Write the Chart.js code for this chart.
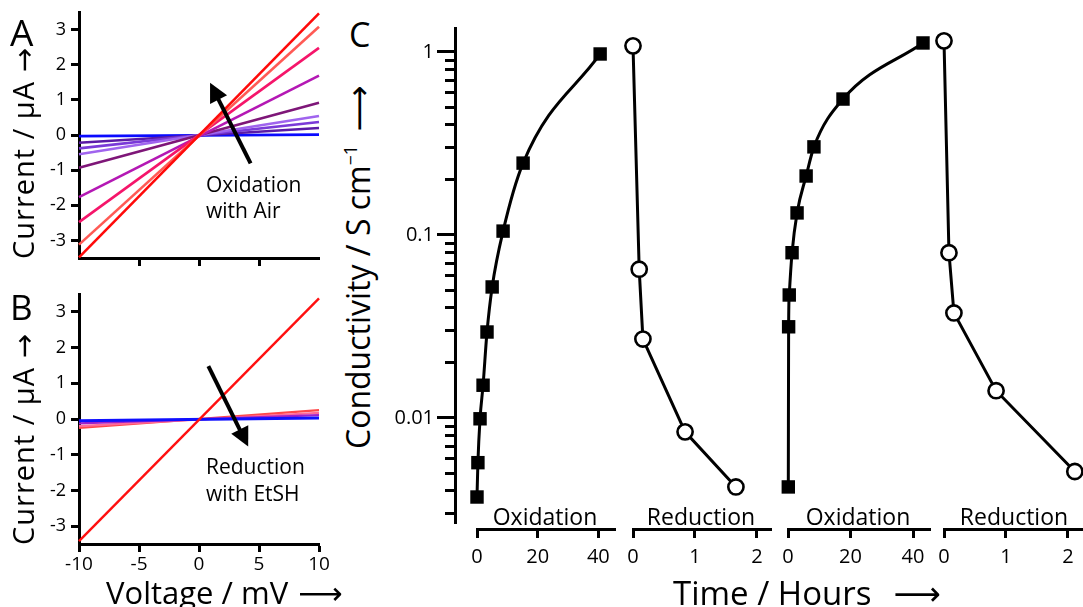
<!DOCTYPE html>
<html>
<head>
<meta charset="utf-8">
<script src="https://cdn.jsdelivr.net/npm/chart.js@4.4.1/dist/chart.umd.min.js"></script>
<style>
  html, body { margin:0; padding:0; background:#fff; width:1083px; height:607px; overflow:hidden;
    font-family:"Open Sans", "DejaVu Sans", sans-serif; color:#000; }
  canvas { position:absolute; }
  .t { position:absolute; white-space:nowrap; line-height:1; color:#000; }
  .rot { transform-origin:0 0; transform:rotate(-90deg); }
  .arr { font-family:"DejaVu Sans", sans-serif; }
</style>
</head>
<body>
<script>
// ---------------- DATA ----------------
// Panels A and B: current (µA) at -10 mV and +10 mV
const voltageMV = [-10, 10];
const voltageTicksA = [-5, 0, 5];
const voltageTicksB = [-10, -5, 0, 5, 10];
const currentTicks = [-3, -2, -1, 0, 1, 2, 3];

const aRed      = [-3.48, 3.46];
const aCoral    = [-3.12, 3.08];
const aPink     = [-2.48, 2.48];
const aPurple   = [-1.77, 1.69];
const aPlum     = [-0.93, 0.92];
const aLavender = [-0.55, 0.54];
const aViolet   = [-0.38, 0.37];
const aIndigo   = [-0.22, 0.20];
const aBlue     = [-0.03, 0.01];

const bRed    = [-3.42, 3.38];
const bCoral  = [-0.25, 0.25];
const bPink   = [-0.20, 0.17];
const bPurple = [-0.12, 0.11];
const bBlue   = [-0.05, 0.03];

// annotation arrows (tail, tip) in data units
const arrowA = [[4.3, -0.81], [0.92, 1.49]];
const arrowB = [[0.78, 1.48], [4.1, -0.77]];

// Panel C: conductivity (S/cm) vs time (hours)
const ox1Hours = [0, 0.3, 1, 2, 3.3, 5, 8.6, 15.2, 40.6];
const ox1Cond  = [0.0037, 0.0057, 0.0099, 0.0151, 0.0295, 0.052, 0.105, 0.247, 0.975];
const red1Hours = [0, 0.1, 0.16, 0.84, 1.66];
const red1Cond  = [1.08, 0.065, 0.027, 0.0084, 0.0042];
const ox2Hours = [0.1, 0.2, 0.4, 1.3, 2.9, 5.8, 8.3, 17.6, 43.2];
const ox2Cond  = [0.0042, 0.0315, 0.047, 0.080, 0.132, 0.21, 0.303, 0.553, 1.12];
const red2Hours = [0, 0.08, 0.16, 0.84, 2.11];
const red2Cond  = [1.15, 0.080, 0.0375, 0.0141, 0.0051];

const oxTicks = [0, 20, 40];
const redTicks = [0, 1, 2];
const condMajorTicks = [0.01, 0.1, 1];
const condMinorTicks = [0.003, 0.004, 0.005, 0.006, 0.007, 0.008, 0.009,
                        0.02, 0.03, 0.04, 0.05, 0.06, 0.07, 0.08, 0.09,
                        0.2, 0.3, 0.4, 0.5, 0.6, 0.7, 0.8, 0.9];
const condMajorLabels = ['0.01', '0.1', '1'];

// ---------------- HELPERS ----------------
Chart.defaults.font.family = "'Open Sans', sans-serif";
Chart.defaults.color = '#000';

function mkCanvas(left, top, w, h) {
  const c = document.createElement('canvas');
  c.width = w; c.height = h;
  c.style.left = left + 'px'; c.style.top = top + 'px';
  c.style.width = w + 'px'; c.style.height = h + 'px';
  document.body.appendChild(c);
  return c;
}
function addText(html, css, cls) {
  const d = document.createElement('div');
  d.className = 't' + (cls ? ' ' + cls : '');
  d.style.cssText = css;
  d.innerHTML = html;
  document.body.appendChild(d);
  return d;
}
function zeroPad(s) { s.paddingTop = 0; s.paddingBottom = 0; s.paddingLeft = 0; s.paddingRight = 0; }
const fixedWidth = w => s => { s.width = w; zeroPad(s); };
const fixedHeight = h => s => { s.height = h; zeroPad(s); };
const setTicks = vals => s => { s.ticks = vals.map(v => ({ value: v })); };
const baseOpts = { responsive:false, animation:false, devicePixelRatio:1,
  plugins:{ legend:{display:false}, tooltip:{enabled:false}, title:{display:false} } };

function arrowPlugin(pts) {
  return {
    id: 'arrow',
    afterDatasetsDraw(chart) {
      const sx = chart.scales.x, sy = chart.scales.y, ctx = chart.ctx;
      const x0 = sx.getPixelForValue(pts[0][0]), y0 = sy.getPixelForValue(pts[0][1]);
      const x1 = sx.getPixelForValue(pts[1][0]), y1 = sy.getPixelForValue(pts[1][1]);
      const a = Math.atan2(y1 - y0, x1 - x0), hl = 19, hw = 9.5;
      const bx = x1 - hl * Math.cos(a), by = y1 - hl * Math.sin(a);
      ctx.save();
      ctx.strokeStyle = '#000'; ctx.fillStyle = '#000'; ctx.lineWidth = 4;
      ctx.beginPath(); ctx.moveTo(x0, y0); ctx.lineTo(bx + 2 * Math.cos(a), by + 2 * Math.sin(a)); ctx.stroke();
      ctx.beginPath(); ctx.moveTo(x1, y1);
      ctx.lineTo(bx + hw * Math.sin(a), by - hw * Math.cos(a));
      ctx.lineTo(bx - hw * Math.sin(a), by + hw * Math.cos(a));
      ctx.closePath(); ctx.fill();
      ctx.restore();
    }
  };
}

const axisGrid = len => ({ display:true, drawOnChartArea:false, drawTicks:true, tickLength:len, tickWidth:3, tickColor:'#000' });
const axisBorder = { display:true, color:'#000', width:3 };

function ivChart(top, height, padTop, plotH, series, xTicks, showXLabels, arrow) {
  const c = mkCanvas(0, top, 335, height);
  return new Chart(c, {
    type: 'line',
    data: { datasets: series.map(s => ({
      data: voltageMV.map((v, i) => ({ x: v, y: s.values[i] })),
      borderColor: s.color, borderWidth: s.width, pointRadius: 0, tension: 0, clip: false
    })) },
    options: Object.assign({}, baseOpts, {
      layout: { padding: { top: padTop, right: 16, left: 0, bottom: 0 } },
      scales: {
        x: { type:'linear', min:-10, max:10,
             afterFit: fixedHeight(height - padTop - plotH), afterBuildTicks: setTicks(xTicks),
             grid: axisGrid(8), border: axisBorder,
             ticks: { display: showXLabels, font:{ size:19 }, padding:1, autoSkip:false, maxRotation:0 } },
        y: { type:'linear', min:-3.5, max:3.5,
             afterFit: fixedWidth(79), afterBuildTicks: setTicks(currentTicks),
             grid: axisGrid(8), border: axisBorder,
             ticks: { font:{ size:18 }, padding:5, autoSkip:false } }
      }
    }),
    plugins: [arrowPlugin(arrow)]
  });
}

// ---------------- PANEL A ----------------
ivChart(0, 275, 12, 246, [
  { values: aRed,      color:'#ff0a0a', width:2.6 },
  { values: aCoral,    color:'#ff5a55', width:2.6 },
  { values: aPink,     color:'#f5156a', width:2.6 },
  { values: aPurple,   color:'#b418b4', width:2.6 },
  { values: aPlum,     color:'#7e1678', width:2.6 },
  { values: aLavender, color:'#a064ee', width:2.6 },
  { values: aViolet,   color:'#7a3ad8', width:2.6 },
  { values: aIndigo,   color:'#5a1aa6', width:2.6 },
  { values: aBlue,     color:'#0a0aff', width:2.8 }
], voltageTicksA, false, arrowA);

// ---------------- PANEL B ----------------
ivChart(280, 300, 14, 250, [
  { values: bRed,    color:'#ff1010', width:2.4 },
  { values: bBlue,   color:'#1010ff', width:3.0 },
  { values: bPurple, color:'#a020c8', width:2.2 },
  { values: bPink,   color:'#ff6a9a', width:2.2 },
  { values: bCoral,  color:'#ff4848', width:2.2 }
], voltageTicksB, true, arrowB);

// ---------------- PANEL C ----------------
const C_TOP = 28;
function condAxis(major) {
  const c = mkCanvas(380, 0, 80, 560);
  new Chart(c, {
    type: 'line',
    data: { datasets: [] },
    options: Object.assign({}, baseOpts, {
      layout: { padding: { top: C_TOP, bottom: 37, left: 0, right: 0 } },
      scales: {
        x: { type:'linear', display:false, min:0, max:1 },
        y: { type:'logarithmic', min:0.002668, max:1.352,
             afterFit: fixedWidth(75),
             afterBuildTicks: setTicks(major ? condMajorTicks : condMinorTicks),
             grid: axisGrid(major ? 18 : 10),
             border: { display: major, color:'#000', width:3 },
             ticks: { display: major, font:{ size:20 }, padding:3, autoSkip:false,
                      callback: (v, i) => major ? condMajorLabels[i] : '' } }
      }
    })
  });
}
condAxis(false);
condAxis(true);

const squareStyle = { borderColor:'#000', borderWidth:3, pointStyle:'rect', pointRadius:9.5,
  pointBackgroundColor:'#000', pointBorderColor:'#000', pointBorderWidth:0, cubicInterpolationMode:'monotone' };
const circleStyle = { borderColor:'#000', borderWidth:3, pointStyle:'circle', pointRadius:7.6,
  pointBackgroundColor:'#fff', pointBorderColor:'#000', pointBorderWidth:2.6, tension:0 };

function condSegment(left, right, max, hours, cond, ticks, style) {
  const padL = 15, padR = 15;
  const c = mkCanvas(left - padL, 0, right - left + padL + padR, 607);
  new Chart(c, {
    type: 'line',
    data: { datasets: [Object.assign({ data: hours.map((h, i) => ({ x: h, y: cond[i] })), clip:false }, style)] },
    options: Object.assign({}, baseOpts, {
      layout: { padding: { top: C_TOP, left: padL, right: padR, bottom: 0 } },
      scales: {
        x: { type:'linear', min:0, max:max,
             afterFit: fixedHeight(607 - 529), afterBuildTicks: setTicks(ticks),
             grid: axisGrid(9), border: axisBorder,
             ticks: { font:{ size:20 }, padding:7, autoSkip:false, maxRotation:0 } },
        y: { type:'logarithmic', display:false, min:0.002474, max:1.352 }
      }
    })
  });
}
condSegment(477, 615, 45.5, ox1Hours, ox1Cond, oxTicks, squareStyle);
condSegment(633, 771, 2.226, red1Hours, red1Cond, redTicks, circleStyle);
condSegment(788, 930, 45.44, ox2Hours, ox2Cond, oxTicks, squareStyle);
condSegment(944, 1083, 2.242, red2Hours, red2Cond, redTicks, circleStyle);

// ---------------- TEXT ----------------
addText('A', 'left:10px; top:13px; font-size:37px;');
addText('B', 'left:10px; top:289px; font-size:35px;');
addText('C', 'left:349px; top:17px; font-size:34px;');

addText('Oxidation<br>with Air', 'left:206px; top:171px; font-size:21px; line-height:26px;');
addText('Reduction<br>with EtSH', 'left:206px; top:453px; font-size:21px; line-height:27px;');

[['Oxidation', 545], ['Reduction', 701], ['Oxidation', 858], ['Reduction', 1014]].forEach(([s, cx]) =>
  addText(s, 'left:' + cx + 'px; top:505px; font-size:23px; transform:translateX(-50%);'));

addText('Voltage / mV<span class="arr" style="margin-left:10px">⟶</span>', 'left:106px; top:577px; font-size:31px;');
addText('Time / Hours<span class="arr" style="margin-left:22px">⟶</span>', 'left:673px; top:576px; font-size:33px;');

addText('Current / µA <span class="arr">→</span>', 'left:8px; top:259px; font-size:29px; letter-spacing:1px;', 'rot');
addText('Current / µA <span class="arr">→</span>', 'left:8px; top:545px; font-size:29px; letter-spacing:1px;', 'rot');
addText('Conductivity / S cm<sup style="font-size:0.55em; vertical-align:0.75em">−1</sup><span class="arr" style="margin-left:14px">⟶</span>',
  'left:342px; top:449px; font-size:32px;', 'rot');
</script>
</body>
</html>
